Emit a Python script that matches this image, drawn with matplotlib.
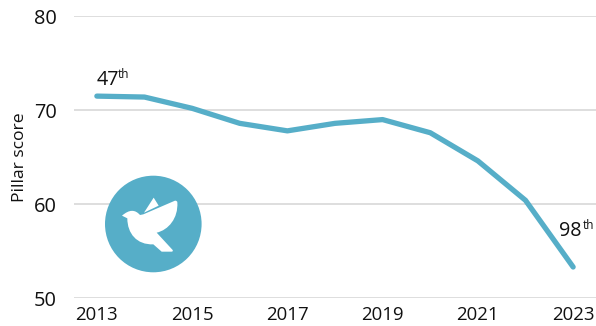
import matplotlib
matplotlib.use('Agg')
import matplotlib.pyplot as plt
from matplotlib.patches import Circle, PathPatch, Polygon
from matplotlib.path import Path

plt.rcParams['font.family'] = ['Open Sans', 'DejaVu Sans']

years = [2013, 2014, 2015, 2016, 2017, 2018, 2019, 2020, 2021, 2022, 2023]
scores = [71.5, 71.4, 70.2, 68.6, 67.8, 68.6, 69.0, 67.6, 64.6, 60.4, 53.3]
xticks = [2013, 2015, 2017, 2019, 2021, 2023]
yticks = [50, 60, 70, 80]

teal = '#56aec8'
text_col = '#111111'

W, H = 596, 326
fig = plt.figure(figsize=(W / 100, H / 100), dpi=100)
ax = fig.add_axes([74 / W, 1 - 298 / H, (W - 74) / W, (298 - 16.3) / H])

ax.plot(years, scores, color=teal, lw=3.8, solid_capstyle='round', solid_joinstyle='round', zorder=3)

ax.set_xlim(2012.52, 2023.48)
ax.set_ylim(50, 80)
ax.set_xticks(xticks)
ax.set_yticks(yticks)
ax.grid(axis='y', color='#d4d4d4', lw=1.1)
ax.set_axisbelow(True)
for s in ax.spines.values():
    s.set_visible(False)
ax.tick_params(length=0, labelcolor=text_col)
ax.tick_params(axis='x', labelsize=13.4, pad=6)
ax.tick_params(axis='y', labelsize=14.4, pad=12.2)
ax.set_ylabel('Pillar score', fontsize=12.6, color=text_col, va='center')
ax.yaxis.set_label_coords((20.5 - 74) / (W - 74), 0.5)

# overlay in pixel coordinates for the rank labels and the icon
ov = fig.add_axes([0, 0, 1, 1])
ov.set_xlim(0, W)
ov.set_ylim(H, 0)
ov.axis('off')
ov.patch.set_alpha(0)

ov.text(96.5, 85, '47', fontsize=14.2, color=text_col, va='baseline')
ov.text(118, 78.5, 'th', fontsize=8.5, color=text_col, va='baseline')
ov.text(558.5, 236, '98', fontsize=14.2, color=text_col, va='baseline')
ov.text(582.5, 229, 'th', fontsize=8.5, color=text_col, va='baseline')

ov.add_patch(Circle((153.3, 224), 48.3, color=teal, lw=0, zorder=4))


def zoomed(points):
    return [(90 + px / 3, 165 + py / 3) for px, py in points]


# icon outline, in the coordinates of the zoomed crop
bird_pts = [(96, 152),
            (118, 133), (135, 133), (150, 150),
            (160, 148),
            (255, 107),
            (262, 107), (262, 112),
            (265, 160), (235, 195), (200, 203),
            (248, 255),
            (250, 260), (245, 260),
            (215, 260),
            (190, 238),
            (140, 240), (112, 205), (112, 160),
            (96, 152)]
bird_codes = [Path.MOVETO,
              Path.CURVE4, Path.CURVE4, Path.CURVE4,
              Path.LINETO,
              Path.LINETO,
              Path.CURVE3, Path.CURVE3,
              Path.CURVE4, Path.CURVE4, Path.CURVE4,
              Path.LINETO,
              Path.CURVE3, Path.CURVE3,
              Path.LINETO,
              Path.LINETO,
              Path.CURVE4, Path.CURVE4, Path.CURVE4,
              Path.CLOSEPOLY]
wing = [(191, 98), (206, 122), (162, 143)]
ov.add_patch(PathPatch(Path(zoomed(bird_pts), bird_codes), facecolor='white', lw=0, zorder=5))
ov.add_patch(Polygon(zoomed(wing), closed=True, color='white', lw=0, zorder=5))

fig.savefig('out.png', dpi=100)
